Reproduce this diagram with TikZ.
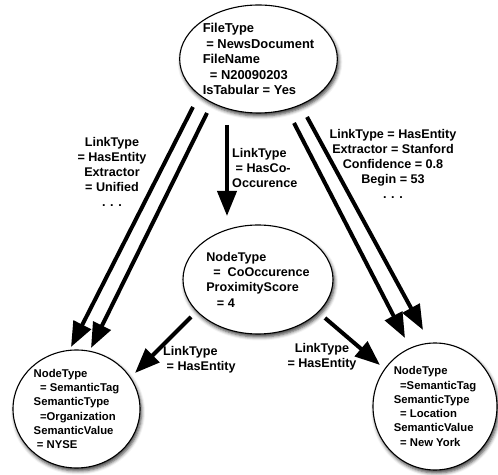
\documentclass[tikz,border=0pt]{standalone}
\usepackage{fontspec}
\setmainfont{Liberation Sans}
\usetikzlibrary{arrows.meta}
\usetikzlibrary{shapes}
\usetikzlibrary{shadows.blur}
\tikzset{>={Triangle[length=25pt,width=19pt]}}
\newcommand{\indsp}{\hspace*{0.28em}}

\tikzset{
  entity/.style={ellipse, draw, line width=1.1pt, fill=white, inner sep=0pt, align=left,
    blur shadow={shadow xshift=1.5pt, shadow yshift=-3pt, shadow blur radius=3.5pt, shadow opacity=75}},
  link/.style={->, line width=4pt},
  linklabel/.style={inner sep=0pt, font=\bfseries\fontsize{12.6}{15.2}\selectfont}
}

\begin{document}
\begin{tikzpicture}[x=1pt,y=1pt]
\useasboundingbox (0,0) rectangle (498,474);

% Nodes
\node[entity, minimum width=155pt, minimum height=108pt, font=\bfseries\fontsize{12.9}{15.5}\selectfont] (file) at (258.5,415)
  {FileType\\\indsp= NewsDocument\\FileName\\\indsp\indsp= N20090203\\IsTabular = Yes};
\node[entity, minimum width=150pt, minimum height=109pt, font=\bfseries\fontsize{12.6}{15.3}\selectfont] (cooc) at (258,194.5)
  {NodeType\\\indsp\indsp= \ CoOccurence\\ProximityScore\\\indsp\indsp\indsp= 4};
\node[entity, minimum width=127pt, minimum height=118pt, font=\bfseries\fontsize{11.3}{14.3}\selectfont] (org) at (76.5,65)
  {NodeType\\\indsp\indsp= SemanticTag\\SemanticType\\\indsp\indsp=Organization\\SemanticValue\\\indsp= NYSE};
\node[entity, minimum width=124pt, minimum height=127pt, font=\bfseries\fontsize{11.3}{14.3}\selectfont] (loc) at (435,67.5)
  {NodeType\\\indsp\indsp=SemanticTag\\SemanticType\\\indsp\indsp= Location\\SemanticValue\\\indsp\indsp= New York};

% Links from the document
\draw[link] ([shift={(-65.5,-48)}]file.center) -- ([shift={(-5.5,62)}]org.center);
\draw[link] ([shift={(-51.5,-54)}]file.center) -- ([shift={(14.5,61)}]org.center);
\draw[link] ([shift={(-31.5,-66)}]file.center) -- ([shift={(-31,63.5)}]cooc.center);
\draw[link] ([shift={(35.5,-64)}]file.center) -- ([shift={(-30,68.5)}]loc.center);
\draw[link] ([shift={(48.5,-58)}]file.center) -- ([shift={(-12,76.5)}]loc.center);

% Links from the co-occurence
\draw[link] ([shift={(-67,-37.5)}]cooc.center) -- ([shift={(58.5,36)}]org.center);
\draw[link] ([shift={(67,-38.5)}]cooc.center) -- ([shift={(-55,41.5)}]loc.center);

% Labels
\node[linklabel, align=center] (leftlbl) at (112,302) {LinkType\\= HasEntity\\Extractor\\= Unified\\. . .};
\node[linklabel, align=center] (rightlbl) at (393,310) {LinkType = HasEntity\\Extractor = Stanford\\Confidence = 0.8\\Begin = 53\\. . .};
\node[linklabel, align=left, anchor=west] (midlbl) at (232,306) {LinkType\\\indsp= HasCo-\\Occurence};
\node[linklabel, align=left, anchor=west] (orglbl) at (163,114) {LinkType\\\indsp= HasEntity};
\node[linklabel, align=center] (loclbl) at (322,117) {LinkType\\= HasEntity};

\end{tikzpicture}
\end{document}
